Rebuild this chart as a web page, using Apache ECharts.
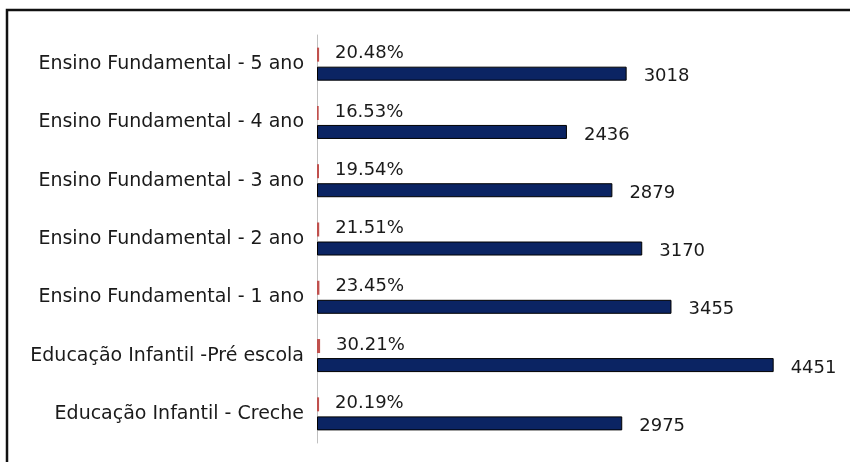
<!DOCTYPE html>
<html>
<head>
<meta charset="utf-8">
<script src="https://cdn.jsdelivr.net/npm/echarts@6/dist/echarts.min.js"></script>
<style>html,body{margin:0;padding:0;background:#fff;}#c{width:850px;height:462px;}</style>
</head>
<body>
<div id="c"></div>
<script>
// top to bottom order
const categories = [
  "Ensino Fundamental - 5 ano",
  "Ensino Fundamental - 4 ano",
  "Ensino Fundamental - 3 ano",
  "Ensino Fundamental - 2 ano",
  "Ensino Fundamental - 1 ano",
  "Educação Infantil -Pré escola",
  "Educação Infantil - Creche"
];
const percentValues = [20.48, 16.53, 19.54, 21.51, 23.45, 30.21, 20.19];
const countValues = [3018, 2436, 2879, 3170, 3455, 4451, 2975];

const FONT = 'DejaVu Sans, Liberation Sans, Arial, sans-serif';

const chart = echarts.init(document.getElementById('c'), null, {renderer: 'canvas'});
chart.setOption({
  animation: false,
  backgroundColor: '#ffffff',
  graphic: [{
    type: 'rect',
    shape: {x: 7, y: 10, width: 900, height: 500},
    style: {fill: 'none', stroke: '#111', lineWidth: 2.5},
    z: 100
  }],
  grid: {left: 317, top: 35, width: 513, height: 408, containLabel: false},
  xAxis: {
    type: 'value', min: 0, max: 5000, show: false
  },
  yAxis: {
    type: 'category', inverse: true, data: categories,
    axisLine: {show: true, lineStyle: {color: '#c0c0c0', width: 1}},
    axisTick: {show: false},
    axisLabel: {
      color: '#1a1a1a', fontFamily: FONT, fontSize: 19, margin: 13
    },
    splitLine: {show: false}
  },
  series: [
    {
      name: 'Percentual', type: 'bar', data: percentValues,
      barWidth: 14, barGap: '36%', barCategoryGap: '44%',
      itemStyle: {color: '#c0504d'},
      label: {
        show: true, position: 'right', distance: 16, offset: [0, -1],
        formatter: p => p.value.toFixed(2) + '%',
        color: '#1a1a1a', fontFamily: FONT, fontSize: 18
      }
    },
    {
      name: 'Total', type: 'bar', data: countValues,
      barWidth: 14,
      itemStyle: {color: '#0b2463', borderColor: '#000', borderWidth: 1},
      label: {
        show: true, position: 'right', distance: 17, offset: [0, 3],
        color: '#1a1a1a', fontFamily: FONT, fontSize: 18
      }
    }
  ]
});
</script>
</body>
</html>
